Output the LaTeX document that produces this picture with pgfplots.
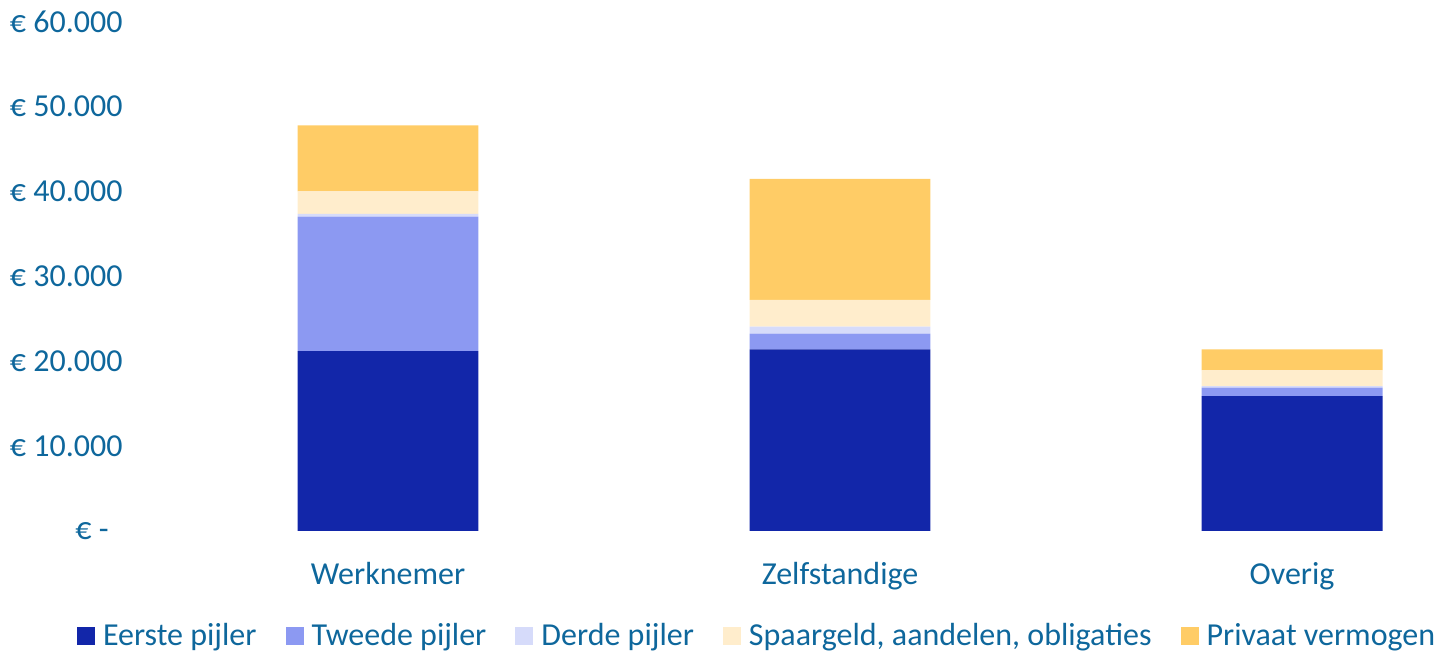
\documentclass[border=0pt]{standalone}
\usepackage{fontspec}
\setmainfont{Carlito}
\usepackage{pgfplots}
\pgfplotsset{compat=1.18}
\definecolor{cEerste}{HTML}{1226A9}
\definecolor{cTweede}{HTML}{8C99F2}
\definecolor{cDerde}{HTML}{D6DBFA}
\definecolor{cSpaar}{HTML}{FFEDCC}
\definecolor{cPrivaat}{HTML}{FFCC66}
\definecolor{cText}{HTML}{0E679C}
\begin{document}
\begin{tikzpicture}
\path[use as bounding box] (-70pt,-60.5pt) rectangle (649.5pt,265.5pt);
\begin{axis}[
  at={(0,0)}, anchor=south west,
  scale only axis, width=649.5pt, height=254.7pt,
  xmin=-0.5487, xmax=2.325,
  ymin=0, ymax=60000,
  ybar stacked, bar width=0.4,
  axis line style={draw=none},
  major tick length=0pt,
  scaled y ticks=false,
  xtick={0,1,2},
  xticklabels={Werknemer, Zelfstandige, Overig},
  ytick={0,10000,20000,30000,40000,50000,60000},
  yticklabels={{€ -\rule{7pt}{0pt}}, € 10.000, € 20.000, € 30.000, € 40.000, € 50.000, € 60.000},
  every tick label/.append style={font=\fontsize{16}{19}\selectfont, text=cText},
  yticklabel style={anchor=east, inner sep=0pt, xshift=-8.5pt},
  xticklabel style={anchor=base, inner sep=0pt, yshift=-27pt},
  legend columns=5,
  legend style={draw=none, fill=none, at={(0.4758,-0.2061)}, anchor=center,
    font=\fontsize{16}{19}\selectfont, text=cText,
    /tikz/every even column/.append style={column sep=12.5pt}},
  legend image code/.code={\fill[#1] (0pt,-4.5pt) rectangle (9pt,4.5pt); \path (11pt,0pt);},
]
\addplot[fill=cEerste, draw=none] coordinates {(0,21200) (1,21400) (2,15900)};
\addlegendentry{Eerste pijler}
\addplot[fill=cTweede, draw=none] coordinates {(0,15820) (1,1840) (2,1000)};
\addlegendentry{Tweede pijler}
\addplot[fill=cDerde, draw=none] coordinates {(0,320) (1,820) (2,150)};
\addlegendentry{Derde pijler}
\addplot[fill=cSpaar, draw=none] coordinates {(0,2670) (1,3150) (2,1900)};
\addlegendentry{Spaargeld, aandelen, obligaties}
\addplot[fill=cPrivaat, draw=none] coordinates {(0,7780) (1,14250) (2,2450)};
\addlegendentry{Privaat vermogen}
\end{axis}
\end{tikzpicture}
\end{document}
